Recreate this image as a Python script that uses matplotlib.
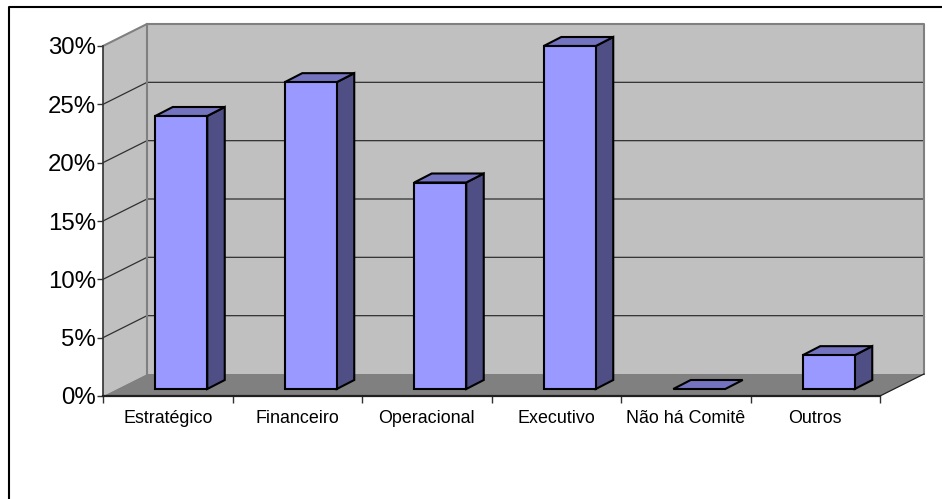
import matplotlib as mpl
import matplotlib.pyplot as plt
from matplotlib.patches import Polygon, Rectangle

# plot settings
mpl.rcParams['font.family'] = ['Liberation Sans', 'DejaVu Sans']

categorias = ['Estratégico', 'Financeiro', 'Operacional', 'Executivo', 'Não há Comitê', 'Outros']
valores = [23.4, 26.3, 17.7, 29.4, 0.0, 2.9]
yticks = [0, 5, 10, 15, 20, 25, 30]
ytick_labels = ['0%', '5%', '10%', '15%', '20%', '25%', '30%']

W, H = 942, 499
fig = plt.figure(figsize=(W / 100, H / 100), dpi=100)
# front plane of the 3d box, in pixels: x 103-880, y 46-396
ax = fig.add_axes([103 / W, 1 - 396 / H, 777 / W, 350 / H])
ax.set_xlim(0, len(categorias))
ax.set_ylim(0, 30)
ax.patch.set_visible(False)

# pixels to data units
px = len(categorias) / 777
py = 30 / 350
ddx, ddy = 44 * px, 22 * py  # depth of the box
n = len(categorias)

def poly(pts, fc, ec='none', lw=0, z=1):
    ax.add_patch(Polygon(pts, closed=True, fc=fc, ec=ec, lw=lw, zorder=z, clip_on=False, joinstyle='miter'))

# walls and floor
poly([(0, 0), (ddx, ddy), (ddx, 30 + ddy), (0, 30)], '#c0c0c0', z=1)
poly([(ddx, ddy), (n + ddx, ddy), (n + ddx, 30 + ddy), (ddx, 30 + ddy)], '#c0c0c0', z=1)
poly([(0, 0), (n, 0), (n + ddx, ddy), (ddx, ddy)], '#808080', z=1)

# gridlines
for v in yticks[1:-1]:
    ax.plot([0, ddx, n + ddx], [v, v + ddy, v + ddy], color='#303030', lw=0.9, zorder=2, clip_on=False)
ax.plot([0, ddx, n + ddx, n + ddx], [30, 30 + ddy, 30 + ddy, ddy], color='#808080', lw=1.5, zorder=2, clip_on=False)
ax.plot([ddx, ddx], [ddy, 30 + ddy], color='#808080', lw=1.5, zorder=2, clip_on=False)
ax.plot([n, n + ddx], [0, ddy], color='#202020', lw=0.9, zorder=2, clip_on=False)

# bars
larg = 52 * px
ox, oy = 13.5 * px, 7 * py  # bar front sits this far behind the front plane
sx, sy = 17.5 * px, 9 * py  # bar depth
for i, v in enumerate(valores):
    x0 = i + 0.5 + ox - larg / 2
    x1 = x0 + larg
    y0 = oy
    y1 = oy + v
    z = 3 + i
    if v > 0:
        poly([(x1, y0), (x1 + sx, y0 + sy), (x1 + sx, y1 + sy), (x1, y1)], '#4f4f85', 'black', 1.5, z)
    poly([(x0, y1), (x1, y1), (x1 + sx, y1 + sy), (x0 + sx, y1 + sy)], '#7373bf', 'black', 1.5, z)
    if v > 0:
        ax.add_patch(Rectangle((x0, y0), larg, v, fc='#9999ff', ec='black', lw=1.5, zorder=z, clip_on=False))

# axes
for s in ['top', 'right']:
    ax.spines[s].set_visible(False)
ax.spines['left'].set_color('#303030')
ax.spines['left'].set_linewidth(1.2)
ax.spines['bottom'].set_color('#202020')
ax.spines['bottom'].set_linewidth(1.6)
ax.spines['left'].set_zorder(10)
ax.spines['bottom'].set_zorder(10)
ax.set_yticks(yticks)
ax.set_yticklabels(ytick_labels, fontsize=17.3, color='black')
ax.tick_params(axis='y', length=4, width=1, color='#303030', pad=1)
ax.set_xticks(range(n + 1))
ax.set_xticklabels([])
ax.tick_params(axis='x', length=5, width=1, color='#303030')
ax.set_xticks([i + 0.5 for i in range(n)], minor=True)
ax.set_xticklabels(categorias, minor=True, fontsize=12.9, color='black', va='baseline')
ax.tick_params(axis='x', which='minor', length=0, pad=19.5)

# outer border of the chart area: only the top and left edges show
fig.add_artist(plt.Line2D([1, 8.5 / W, 8.5 / W], [1 - 6.5 / H, 1 - 6.5 / H, 0],
                          transform=fig.transFigure, color='black', lw=1.5))

fig.savefig('out.png', dpi=100)
